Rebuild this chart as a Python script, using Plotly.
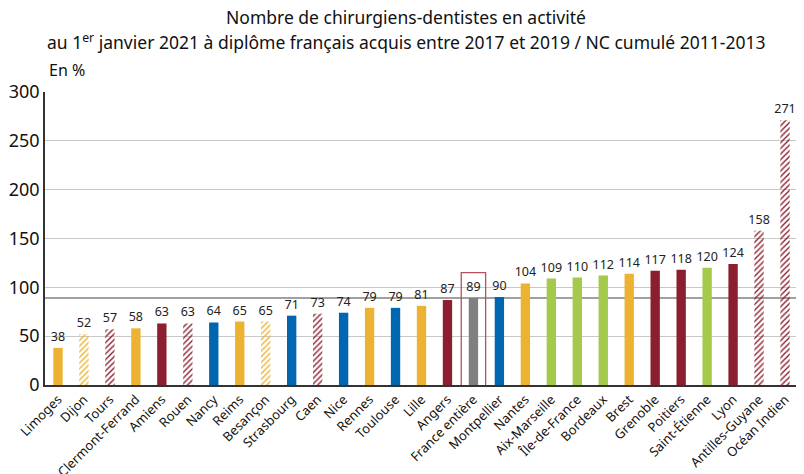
import plotly.graph_objects as go

# Données : chirurgiens-dentistes en activité / NC cumulé 2011-2013 (en %)
regions = ['Limoges', 'Dijon', 'Tours', 'Clermont-Ferrand', 'Amiens', 'Rouen', 'Nancy',
           'Reims', 'Besançon', 'Strasbourg', 'Caen', 'Nice', 'Rennes', 'Toulouse',
           'Lille', 'Angers', 'France entière', 'Montpellier', 'Nantes', 'Aix-Marseille',
           'Île-de-France', 'Bordeaux', 'Brest', 'Grenoble', 'Poitiers', 'Saint-Étienne',
           'Lyon', 'Antilles-Guyane', 'Océan Indien']
values = [38, 52, 57, 58, 63, 63, 64, 65, 65, 71, 73, 74, 79, 79, 81, 87, 89, 90,
          104, 109, 110, 112, 114, 117, 118, 120, 124, 158, 271]
groups = ['jaune', 'jaune', 'rouge', 'jaune', 'rouge', 'rouge', 'bleu', 'jaune', 'jaune',
          'bleu', 'rouge', 'bleu', 'jaune', 'bleu', 'jaune', 'rouge', 'gris', 'bleu',
          'jaune', 'vert', 'vert', 'vert', 'jaune', 'rouge', 'rouge', 'vert', 'rouge',
          'rouge', 'rouge']
hatched = ['Dijon', 'Tours', 'Rouen', 'Besançon', 'Caen', 'Antilles-Guyane', 'Océan Indien']
y_ticks = [0, 50, 100, 150, 200, 250, 300]

palette = {'jaune': '#EDB232', 'rouge': '#8C1F2F', 'bleu': '#0066B0',
           'vert': '#A4C94B', 'gris': '#808080'}

colors = [palette[g] for g in groups]
shapes = ['/' if r in hatched else '' for r in regions]

fig = go.Figure()
fig.add_trace(go.Bar(
    x=regions,
    y=values,
    width=0.36,
    marker=dict(color=colors, line=dict(width=0),
                pattern=dict(shape=shapes, fillmode='replace', bgcolor=colors,
                             fgcolor=['#FFFFFF'] * len(regions), fgopacity=1,
                             size=4, solidity=0.35)),
    text=values,
    textposition='outside',
    constraintext='none',
    textfont=dict(size=12.5, color='#222222'),
    cliponaxis=False,
))

# référence France entière
ref_idx = regions.index('France entière')
ref_val = values[ref_idx]
fig.add_shape(type='line', xref='paper', yref='y', x0=0, x1=1, y0=ref_val, y1=ref_val,
              line=dict(color='#808080', width=1.5), layer='below')
fig.add_shape(type='rect', xref='x', yref='y', x0=ref_idx - 0.47, x1=ref_idx + 0.47,
              y0=-4, y1=ref_val + 26, line=dict(color='#B5505F', width=1.3))

fig.add_annotation(text='En %', xref='paper', yref='paper', x=0.003, y=1.03,
                   xanchor='left', yanchor='bottom', showarrow=False,
                   font=dict(size=16, color='#111111'))

# titre sur deux lignes
fig.add_annotation(text='Nombre de chirurgiens-dentistes en activité',
                   xref='paper', yref='paper', x=0.48, y=1.256,
                   xanchor='center', yanchor='middle', showarrow=False,
                   font=dict(size=17.5, color='#111111'))
fig.add_annotation(text='au 1<sup>er</sup> janvier 2021 à diplôme français acquis entre 2017 et 2019 / NC cumulé 2011-2013',
                   xref='paper', yref='paper', x=0.48, y=1.171,
                   xanchor='center', yanchor='middle', showarrow=False,
                   font=dict(size=17.5, color='#111111'))

fig.update_layout(
    width=804, height=474,
    margin=dict(l=37, r=14, t=84, b=97),
    plot_bgcolor='white', paper_bgcolor='white',
    font=dict(family='Noto Sans, sans-serif', color='#111111'),
    showlegend=False,
    bargap=0.6,
)
fig.update_xaxes(tickangle=-45, tickfont=dict(size=13), showline=True, automargin=False,
                 linecolor='#333333', linewidth=1.5, ticks='', range=[-0.5, len(regions) - 0.5])
fig.update_yaxes(range=[0, 300], tickvals=y_ticks, tickfont=dict(size=18), automargin=False,
                 showgrid=True, gridcolor='#C8C8C8', gridwidth=1.2,
                 showline=True, linecolor='#333333', linewidth=1.5,
                 zeroline=False, ticks='')

fig.write_html("out.html")
